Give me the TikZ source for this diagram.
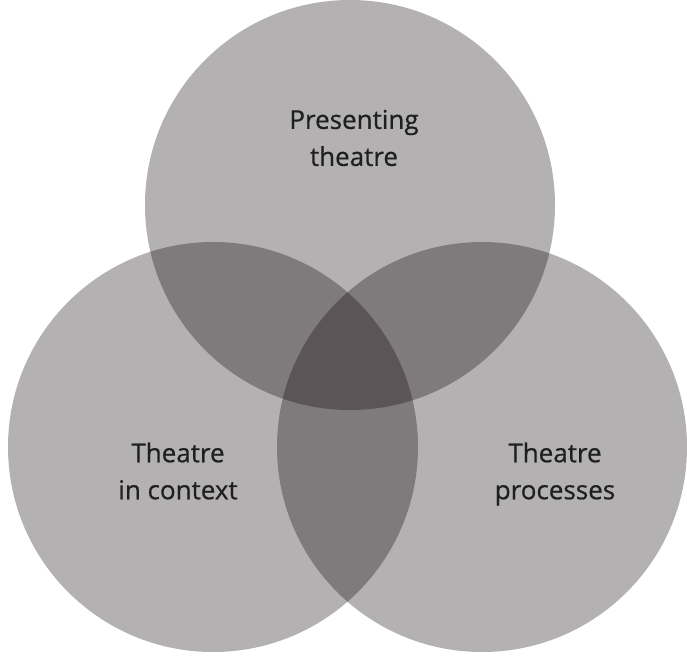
\documentclass[tikz,border=0pt]{standalone}
\usepackage{fontspec}
\setmainfont[FakeBold=0.6]{Open Sans}
\usepackage{tikz}

\tikzset{
  venn/.style={circle, minimum size=410pt, inner sep=0pt,
    fill={rgb,255:red,12;green,2;blue,6}, fill opacity=0.31},
  vlabel/.style={align=center, text=black!88, font=\fontsize{26}{37}\selectfont}
}

\begin{document}
\begin{tikzpicture}[x=1pt,y=-1pt]

        \useasboundingbox (0,0) rectangle (687,655);

        \node[venn] (present) at (350,205) {};
        \node[venn] (context) at (213,447) {};
        \node[venn] (process) at (482,447) {};

        \node[vlabel] (presentlbl) at (354,138) {Presenting\\theatre};
        \node[vlabel] (contextlbl) at (178,471) {Theatre\\in context};
        \node[vlabel] (processlbl) at (555,474) {Theatre\\processes};

\end{tikzpicture}
\end{document}
